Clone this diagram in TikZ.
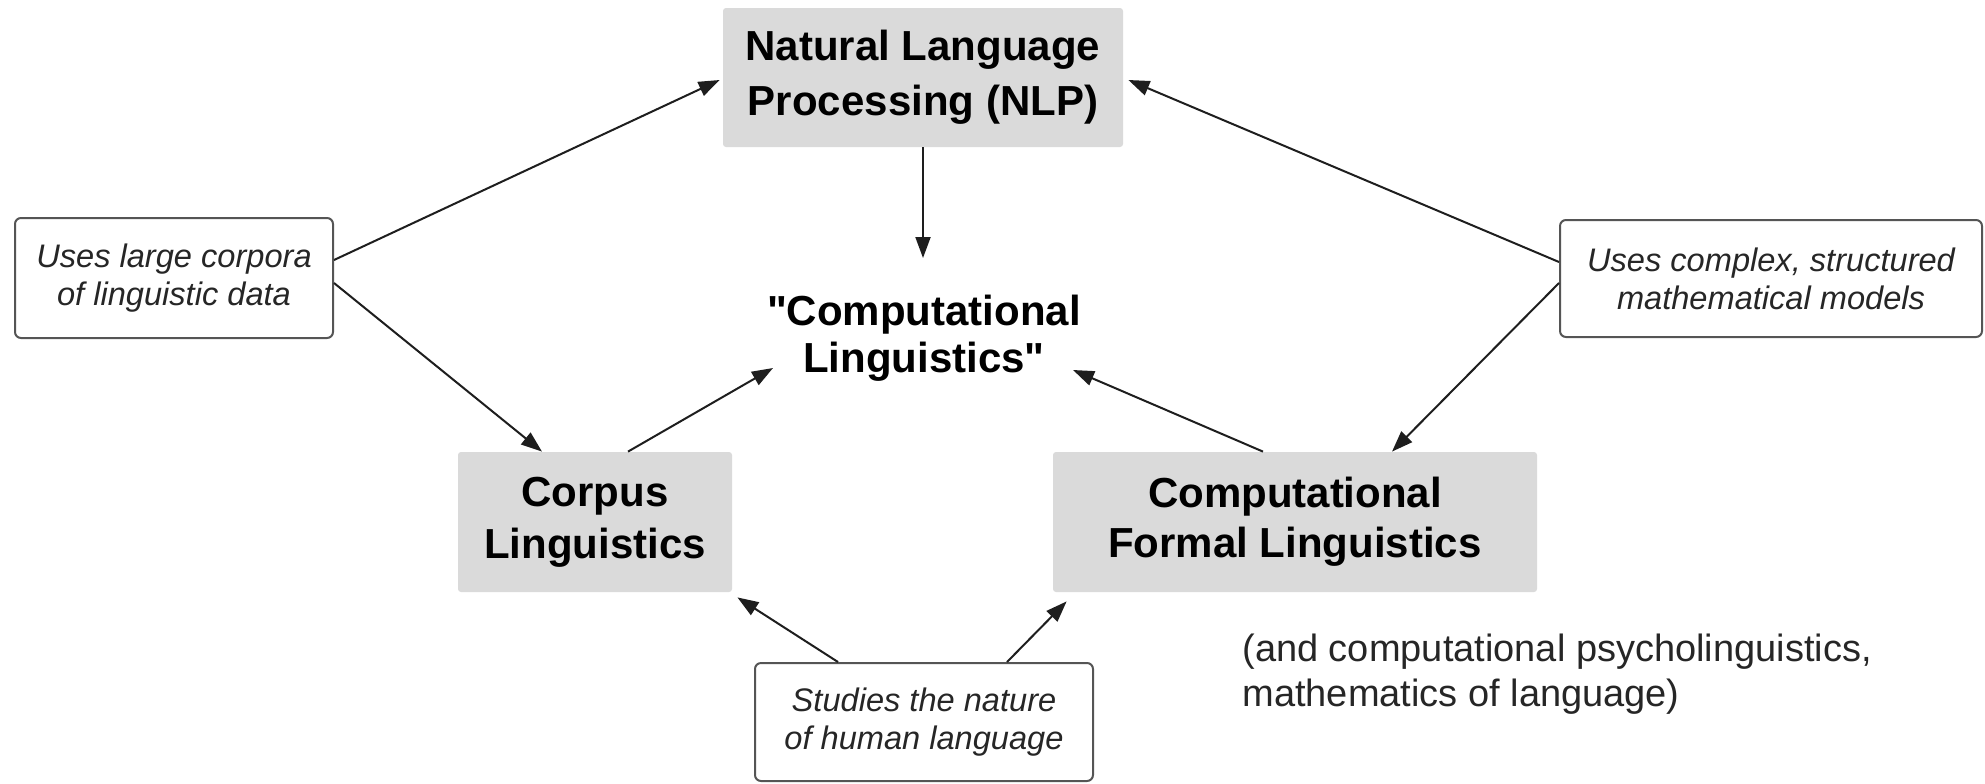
\documentclass[tikz,border=0pt]{standalone}
\usepackage{fontspec}
\setmainfont{Liberation Sans}[Ligatures=TeXOff]
\usetikzlibrary{arrows.meta,calc}
\definecolor{boxgray}{RGB}{218,218,218}
\definecolor{edgegray}{RGB}{85,85,85}
\definecolor{linecol}{RGB}{30,30,30}
\begin{document}
\begin{tikzpicture}[x=0.5pt,y=-0.5pt,
  graybox/.style={fill=boxgray, rounded corners=1.5pt, inner sep=0pt, align=center,
    font=\fontsize{21}{26}\selectfont\bfseries},
  notebox/.style={draw=edgegray, line width=1pt, fill=white, rounded corners=3pt,
    inner sep=0pt, align=center, text=black!85,
    font=\fontsize{16.3}{19}\selectfont\itshape},
  conn/.style={draw=linecol, line width=1pt, -{Triangle[length=10.5pt,width=7.5pt]}}]
\useasboundingbox (0,0) rectangle (1985,783);

\node[graybox, minimum width=200pt, minimum height=69.5pt,
  font=\fontsize{21}{27.5}\selectfont\bfseries] (nlp) at (923,77.5) {Natural Language\\Processing (NLP)};
\node[graybox, minimum width=137pt, minimum height=70pt] (corpus) at (595,522) {Corpus\\Linguistics};
\node[graybox, minimum width=242pt, minimum height=70pt,
  font=\fontsize{21}{25}\selectfont\bfseries] (cfl) at (1295,522) {Computational\\Formal Linguistics};
\node[inner sep=0pt, align=center, font=\fontsize{21}{23.5}\selectfont\bfseries] (cl) at (924,338) {"Computational\\Linguistics"};

\node[notebox, minimum width=159pt, minimum height=60pt] (left) at (174,278) {Uses large corpora\\of linguistic data};
\node[notebox, minimum width=211pt, minimum height=58.5pt] (right) at (1771,278.5) {Uses complex, structured\\mathematical models};
\node[notebox, minimum width=169pt, minimum height=59pt] (studies) at (924,722) {Studies the nature\\of human language};

\node[inner sep=0pt, anchor=west, align=left, text=black!85,
  font=\fontsize{19}{22.5}\selectfont] (note) at (1242,674) {(and computational psycholinguistics,\\mathematics of language)};

\coordinate (clT) at (923,258);
\coordinate (clL) at (773,368);
\coordinate (clR) at (1073,370);

\draw[conn] ($(left.east)+(0,-18)$) -- ($(nlp.west)+(-3,2.5)$);
\draw[conn] ($(left.east)+(0,5)$) -- ($(corpus.north)+(-53,0)$);
\draw[conn] ($(corpus.north)+(33,0)$) -- (clL);
\draw[conn] (nlp.south) -- (clT);
\draw[conn] ($(right.west)+(0,-16.5)$) -- ($(nlp.east)+(5,2.5)$);
\draw[conn] ($(right.west)+(0,4.5)$) -- ($(cfl.north)+(97,0)$);
\draw[conn] ($(cfl.north)+(-32,0)$) -- (clR);
\draw[conn] ($(studies.north)+(-86,0)$) -- ($(corpus.south east)+(5,5)$);
\draw[conn] ($(studies.north)+(83,0)$) -- ($(cfl.south west)+(14,9)$);
\end{tikzpicture}
\end{document}
